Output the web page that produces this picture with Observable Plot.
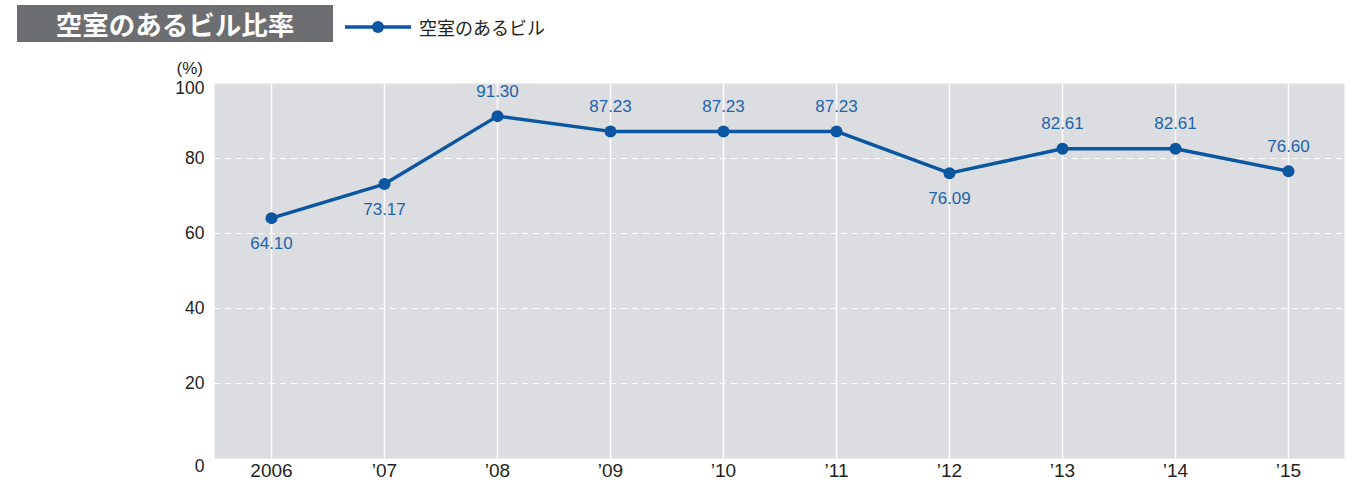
<!DOCTYPE html>
<html><head><meta charset="utf-8">
<script src="https://cdn.jsdelivr.net/npm/d3@7"></script>
<script src="https://cdn.jsdelivr.net/npm/@observablehq/plot@0.6"></script>
<style>
body{margin:0;background:#fff;font-family:"Liberation Sans","Noto Sans CJK JP",sans-serif;}
#wrap{position:relative;width:1360px;height:483px;}
#title{position:absolute;left:17px;top:5px;width:316px;height:37px;background:#6d6e71;color:#fff;font-family:"Noto Sans CJK JP",sans-serif;font-weight:bold;font-size:26.5px;line-height:37px;text-align:center;letter-spacing:0px;}
#legend{position:absolute;left:345px;top:14px;height:26px;display:flex;align-items:center;font-family:"Noto Sans CJK JP",sans-serif;font-size:18px;color:#231f20;}
#unit{position:absolute;right:1157px;top:59px;font-size:17px;color:#231f20;}
#chart{position:absolute;left:0;top:0;}
</style></head>
<body><div id="wrap">
<div id="chart"></div>
<div id="title">空室のあるビル比率</div>
<div id="legend"><svg width="68" height="14"><line x1="0" y1="7" x2="66" y2="7" stroke="#0a56a0" stroke-width="3.5"/><circle cx="33" cy="7" r="6" fill="#0a56a0"/></svg><span style="margin-left:6px">空室のあるビル</span></div>
<div id="unit">(%)</div>
</div>
<script>
const years = ["2006","’07","’08","’09","’10","’11","’12","’13","’14","’15"];
const values = [64.10, 73.17, 91.30, 87.23, 87.23, 87.23, 76.09, 82.61, 82.61, 76.60];
const valueLabels = ["64.10","73.17","91.30","87.23","87.23","87.23","76.09","82.61","82.61","76.60"];
const yTicks = [0, 20, 40, 60, 80, 100];

const data = years.map((y, i) => ({
  year: y, value: values[i], label: valueLabels[i],
  below: i < values.length - 1 && values[i] < values[i + 1]
}));

const lineColor = "#0a56a0";
const labelColor = "#1c64ad";
const yAxisOpts = {tickSize: 0, tickPadding: 10, fontSize: 17.5, color: "#231f20", label: null};
const xAxisOpts = {tickSize: 0, tickPadding: 5, fontSize: 19, color: "#231f20", label: null};

const chart = Plot.plot({
  width: 1360, height: 483,
  marginLeft: 214, marginRight: 16, marginTop: 83, marginBottom: 25,
  style: {fontFamily: "'Liberation Sans', Arial, sans-serif", background: "transparent"},
  x: {type: "point", domain: years, padding: 0.5, axis: null, label: null},
  y: {domain: [0, 100], axis: null, label: null},
  marks: [
    Plot.frame({fill: "#dcdde0", stroke: null}),
    Plot.ruleX(years, {stroke: "#fff", strokeWidth: 1.5}),
    Plot.ruleY(yTicks.filter(d => d > 0 && d < 100), {stroke: "#fff", strokeWidth: 1, strokeDasharray: "6,5"}),
    Plot.axisY(yTicks.filter(d => d > 0 && d < 100), yAxisOpts),
    Plot.axisY([100], {...yAxisOpts, dy: 5}),
    Plot.axisY([0], {...yAxisOpts, dy: 8}),
    Plot.axisX(years, xAxisOpts),
    Plot.line(data, {x: "year", y: "value", stroke: lineColor, strokeWidth: 3.5}),
    Plot.dot(data, {x: "year", y: "value", fill: lineColor, r: 6}),
    Plot.text(data.filter(d => d.below), {x: "year", y: "value", text: "label", dy: 25, fill: labelColor, fontSize: 17}),
    Plot.text(data.filter(d => !d.below), {x: "year", y: "value", text: "label", dy: -25, fill: labelColor, fontSize: 17})
  ]
});
document.getElementById("chart").appendChild(chart);
</script>
</body></html>
